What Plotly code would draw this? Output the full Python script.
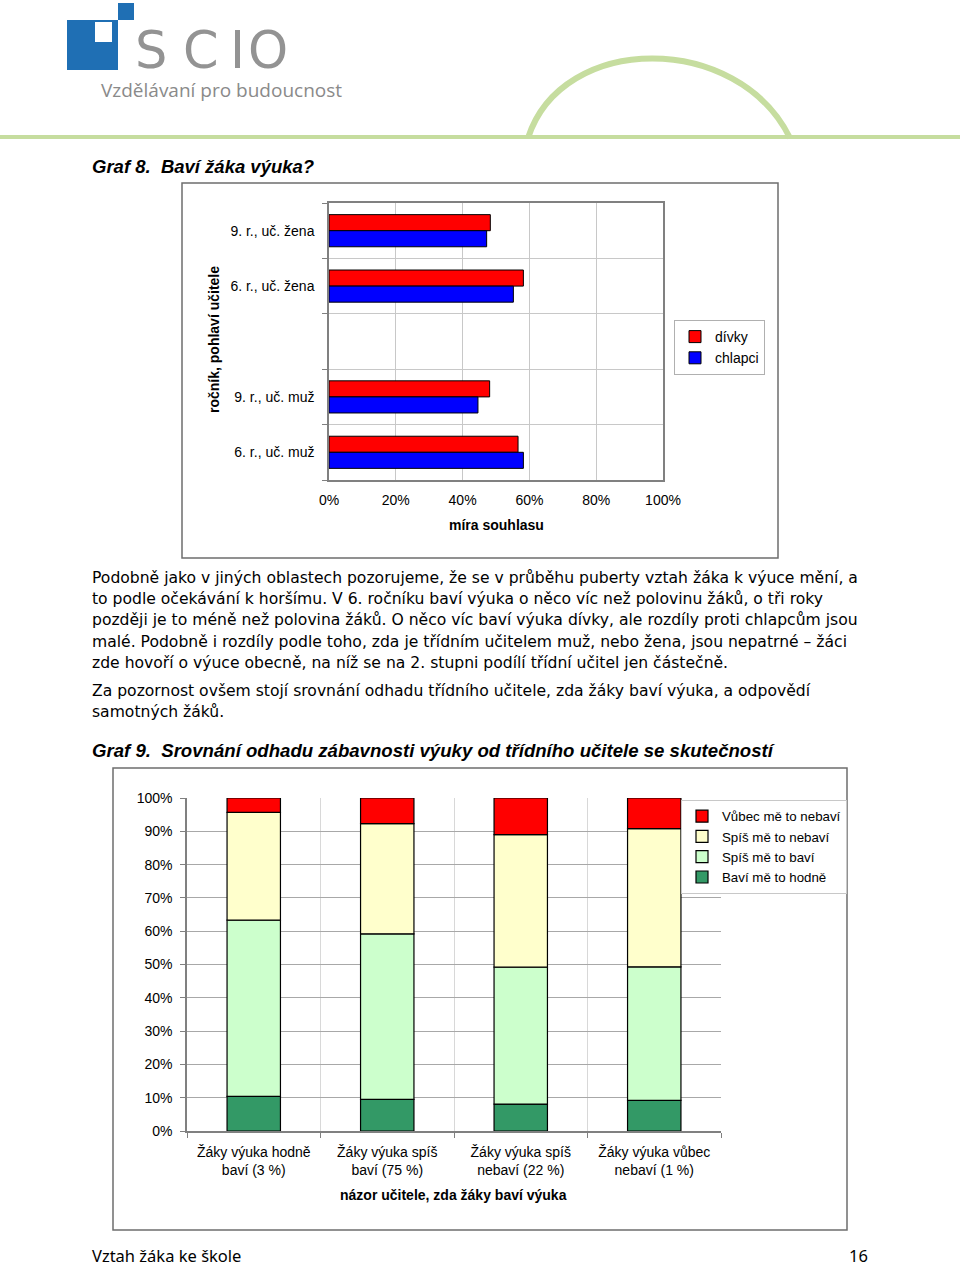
import plotly.graph_objects as go

W, H = 960, 1267
def X(px): return px / W
def Y(py): return 1 - py / H

# ---------------- data: Graf 8 ----------------
slots8 = ["6. r., uč. muž", "9. r., uč. muž", "", "6. r., uč. žena", "9. r., uč. žena"]
groups8 = ["6. r., uč. muž", "9. r., uč. muž", "6. r., uč. žena", "9. r., uč. žena"]
divky = [0.566, 0.481, 0.582, 0.483]
chlapci = [0.582, 0.446, 0.552, 0.472]
xticks8 = [0, 0.2, 0.4, 0.6, 0.8, 1.0]

# ---------------- data: Graf 9 ----------------
cats9 = ["Žáky výuka hodně<br>baví (3 %)", "Žáky výuka spíš<br>baví (75 %)",
         "Žáky výuka spíš<br>nebaví (22 %)", "Žáky výuka vůbec<br>nebaví (1 %)"]
bavi_hodne = [10.4, 9.5, 8.1, 9.2]
spis_bavi = [52.9, 49.7, 41.1, 40.1]
spis_nebavi = [32.4, 33.1, 39.8, 41.5]
vubec_nebavi = [4.3, 7.7, 11.0, 9.2]
series9 = [("Baví mě to hodně", bavi_hodne, "#339966"),
           ("Spíš mě to baví", spis_bavi, "#CCFFCC"),
           ("Spíš mě to nebaví", spis_nebavi, "#FFFFCC"),
           ("Vůbec mě to nebaví", vubec_nebavi, "#FF0000")]

fig = go.Figure()

# Graf 8 bars (horizontal, two per group)
ypos = [slots8.index(g) for g in groups8]
bw = 0.29
fig.add_trace(go.Bar(y=ypos, x=divky, orientation="h", name="dívky",
                     marker=dict(color="#FF0000", line=dict(color="black", width=1)),
                     width=bw, offset=0, xaxis="x", yaxis="y", legend="legend"))
fig.add_trace(go.Bar(y=ypos, x=chlapci, orientation="h", name="chlapci",
                     marker=dict(color="#0000FF", line=dict(color="black", width=1)),
                     width=bw, offset=-bw, xaxis="x", yaxis="y", legend="legend"))

# Graf 9 stacked bars
base = [0.0] * len(cats9)
for name, vals, col in series9:
    fig.add_trace(go.Bar(x=cats9, y=vals, base=list(base), name=name,
                         marker=dict(color=col, line=dict(color="black", width=1.2)),
                         width=0.4, xaxis="x2", yaxis="y2", legend="legend2"))
    base = [b + v for b, v in zip(base, vals)]

AX = dict(family="Liberation Sans, Arial, sans-serif", size=14, color="black")
LEG2 = dict(family="Liberation Sans, Arial, sans-serif", size=13.3, color="black")

fig.update_layout(
    width=W, height=H, margin=dict(l=0, r=0, t=0, b=0, pad=0, autoexpand=False),
    paper_bgcolor="white", plot_bgcolor="white",
    barmode="overlay", showlegend=True,
    font=AX,
    xaxis=dict(domain=[X(329), X(663)], anchor="y", range=[0, 1], tickvals=xticks8,
               tickformat=".0%", showgrid=True, gridcolor="#C8C8C8", gridwidth=1,
               showline=True, mirror=True, linecolor="#808080", linewidth=1.5,
               zeroline=False, ticks="", tickfont=AX, fixedrange=True, automargin=False,
               ticklabelstandoff=6),
    yaxis=dict(domain=[Y(480), Y(203)], anchor="x", range=[-0.5, len(slots8) - 0.5],
               tickvals=ypos, ticktext=groups8, showgrid=False, ticks="",
               minor=dict(tick0=0.5, dtick=1, showgrid=True, gridcolor="#C8C8C8",
                          ticks="outside", ticklen=5, tickcolor="#808080"),
               showline=True, mirror=True, linecolor="#808080", linewidth=1.5,
               zeroline=False, tickfont=AX, ticklabelstandoff=10, automargin=False),
    xaxis2=dict(domain=[X(187), X(721)], anchor="y2", type="category",
                tickson="boundaries", showgrid=True, gridcolor="#D8D8D8",
                ticks="outside", ticklen=5, tickcolor="#808080",
                showline=True, linecolor="#808080", linewidth=1.5, tickfont=AX,
                automargin=False, ticklabelstandoff=7),
    yaxis2=dict(domain=[Y(1131), Y(798)], anchor="x2", range=[0, 100], dtick=10,
                ticksuffix="%", showgrid=True, gridcolor="#A8A8A8", gridwidth=1,
                ticks="outside", ticklen=5, tickcolor="#808080",
                showline=True, linecolor="#808080", linewidth=1.5, zeroline=False,
                tickfont=AX, automargin=False, ticklabelstandoff=5),
    legend=dict(x=X(674), y=Y(320), xanchor="left", yanchor="top",
                bordercolor="#B0B0B0", borderwidth=1, font=AX, bgcolor="white",
                traceorder="normal", itemwidth=30, tracegroupgap=0),
    legend2=dict(x=X(681), y=Y(800), xanchor="left", yanchor="top",
                 bordercolor="#C8C8C8", borderwidth=1, font=LEG2, bgcolor="white",
                 traceorder="reversed", itemwidth=30, tracegroupgap=0),
)

shapes = []
# header green line and arc
green = "#C6DD9F"
shapes.append(dict(type="line", xref="paper", yref="paper", x0=0, x1=1, y0=Y(137), y1=Y(137),
                   line=dict(color=green, width=4)))
def P(x, y): return f"{X(x):.5f},{Y(y):.5f}"
arc = f"M {P(528,138)} C {P(562,32)} {P(738,32)} {P(790,138)}"
shapes.append(dict(type="path", xref="paper", yref="paper", path=arc,
                   line=dict(color=green, width=6)))
# logo blocks
blue = "#1F6FB4"
shapes.append(dict(type="rect", xref="paper", yref="paper", x0=X(67), x1=X(118), y0=Y(70), y1=Y(20),
                   fillcolor=blue, line=dict(width=0), layer="above"))
shapes.append(dict(type="rect", xref="paper", yref="paper", x0=X(118), x1=X(134), y0=Y(20), y1=Y(3),
                   fillcolor=blue, line=dict(width=0), layer="above"))
shapes.append(dict(type="rect", xref="paper", yref="paper", x0=X(95), x1=X(112), y0=Y(42), y1=Y(22),
                   fillcolor="white", line=dict(width=0), layer="above"))
# chart frames
shapes.append(dict(type="rect", xref="paper", yref="paper", x0=X(182), x1=X(778), y0=Y(558), y1=Y(183),
                   line=dict(color="#6E6E6E", width=1.5), layer="below"))
shapes.append(dict(type="rect", xref="paper", yref="paper", x0=X(113), x1=X(847), y0=Y(1230), y1=Y(768),
                   line=dict(color="#6E6E6E", width=1.5), layer="below"))
fig.update_layout(shapes=shapes)

TXT = "Noto Sans, DejaVu Sans, sans-serif"
PARA = "DejaVu Sans, Verdana, sans-serif"
ann = []
def A(x, y, text, size=16, family=TXT, color="black", xanchor="left", angle=0, weight=None):
    f = dict(family=family, size=size, color=color)
    if weight: f["weight"] = weight
    ann.append(dict(x=X(x), y=Y(y), xref="paper", yref="paper", text=text, showarrow=False,
                    xanchor=xanchor, yanchor="middle", font=f, textangle=angle))

# logo text
for ch, cx in zip("SCIO", [151, 201, 237, 268]):
    A(cx, 50, ch, size=51, family="DejaVu Sans, sans-serif", color="#939393", xanchor="center")
A(99, 90, "Vzdělávaní pro budoucnost", size=19, family="Open Sans, sans-serif", color="#8A8A8A")

A(90, 166, "<b><i>Graf 8.  Baví žáka výuka?</i></b>", size=18.5, family="Liberation Sans, sans-serif")
A(214, 340, "<b>ročník, pohlaví učitele</b>", size=14, family=AX["family"], xanchor="center", angle=-90)
A(496, 525, "<b>míra souhlasu</b>", size=14, family=AX["family"], xanchor="center")

para = [
    (578, "Podobně jako v jiných oblastech pozorujeme, že se v průběhu puberty vztah žáka k výuce mění, a"),
    (599, "to podle očekávání k horšímu. V 6. ročníku baví výuka o něco víc než polovinu žáků, o tři roky"),
    (620, "později je to méně než polovina žáků. O něco víc baví výuka dívky, ale rozdíly proti chlapcům jsou"),
    (642, "malé. Podobně i rozdíly podle toho, zda je třídním učitelem muž, nebo žena, jsou nepatrné – žáci"),
    (663, "zde hovoří o výuce obecně, na níž se na 2. stupni podílí třídní učitel jen částečně."),
    (691, "Za pozornost ovšem stojí srovnání odhadu třídního učitele, zda žáky baví výuka, a odpovědí"),
    (712, "samotných žáků."),
]
for yy, t in para:
    A(90, yy, t, size=15.6, family=PARA)

A(90, 750, "<b><i>Graf 9.  Srovnání odhadu zábavnosti výuky od třídního učitele se skutečností</i></b>",
  size=18.6, family="Liberation Sans, sans-serif")
A(453, 1195, "<b>názor učitele, zda žáky baví výuka</b>", size=14, family=AX["family"], xanchor="center")

A(90, 1255, "Vztah žáka ke škole", size=16.5)
A(870, 1255, "16", size=16.5, xanchor="right")

fig.update_layout(annotations=ann)
fig.write_html("out.html", config={"displayModeBar": False},
               post_script="document.body.style.margin='0';document.body.style.overflow='hidden';")
